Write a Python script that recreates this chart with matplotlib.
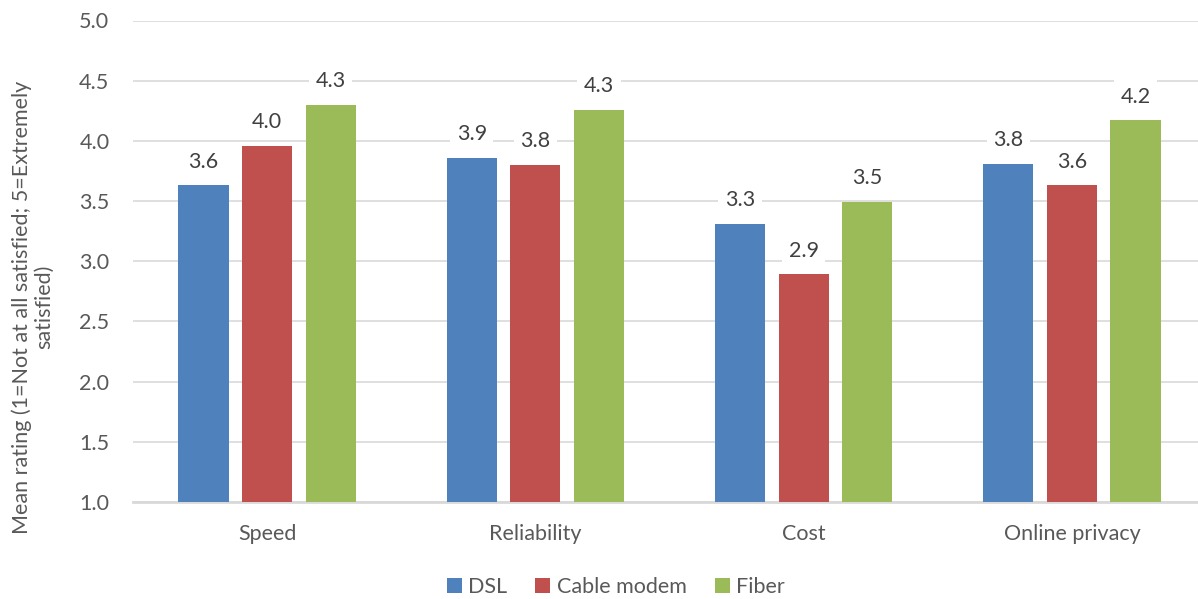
import matplotlib.pyplot as plt
import numpy as np

plt.rcParams['font.family'] = ['Lato', 'DejaVu Sans']

categories = ["Speed", "Reliability", "Cost", "Online privacy"]
series = ["DSL", "Cable modem", "Fiber"]
dsl = [3.63, 3.86, 3.31, 3.81]
cable = [3.96, 3.80, 2.89, 3.63]
fiber = [4.30, 4.26, 3.49, 4.17]
labels_dsl = ["3.6", "3.9", "3.3", "3.8"]
labels_cable = ["4.0", "3.8", "2.9", "3.6"]
labels_fiber = ["4.3", "4.3", "3.5", "4.2"]
colors = ["#4F81BD", "#C0504D", "#9BBB59"]

fig = plt.figure(figsize=(11.98, 5.99), dpi=100)
ax = fig.add_axes([133/1198, (599-502)/599, 1073/1198, (502-20.5)/599])

x = np.arange(len(categories))
width = 0.187
step = 0.237
data = [dsl, cable, fiber]
labs = [labels_dsl, labels_cable, labels_fiber]
fs = 15.5
for i in range(3):
    pos = x + (i - 1) * step
    ax.bar(pos, np.array(data[i]) - 1.0, width, bottom=1.0,
           color=colors[i], label=series[i], zorder=3)
    for xp, v, t in zip(pos, data[i], labs[i]):
        ax.annotate(t, (xp, v), xytext=(0, 10), textcoords="offset points",
                    ha="center", va="bottom", fontsize=fs, color="#404040",
                    bbox=dict(boxstyle="square,pad=0.3", fc="white", ec="none"),
                    zorder=4)

ax.set_xlim(-0.5, len(categories) - 0.5)
ax.set_ylim(1.0, 5.0)
ax.set_yticks(np.arange(1.0, 5.01, 0.5))
ax.set_yticklabels([f"{v:.1f}" for v in np.arange(1.0, 5.01, 0.5)])
ax.set_xticks(x)
ax.set_xticklabels(categories)
ax.tick_params(axis="both", length=0, labelsize=fs, labelcolor="#595959")
ax.tick_params(axis="x", pad=16)
ax.tick_params(axis="y", pad=17)
ax.grid(axis="y", color="#D9D9D9", linewidth=1.2, zorder=0)
for s in ["top", "right", "left"]:
    ax.spines[s].set_visible(False)
ax.spines["bottom"].set_color("#D9D9D9")
ax.spines["bottom"].set_linewidth(2)

fig.text(33/1198, (599-307)/599, "Mean rating (1=Not at all satisfied; 5=Extremely\nsatisfied)",
         rotation=90, ha="center", va="center", fontsize=15.5, color="#595959",
         multialignment="center", linespacing=1.15)

fig.legend(loc="center", bbox_to_anchor=(0.514, (599-587)/599), ncol=3, frameon=False,
           fontsize=fs, labelcolor="#595959", handlelength=0.7, handleheight=0.7,
           handletextpad=0.3, columnspacing=1.3)

fig.savefig("out.png", dpi=100)
